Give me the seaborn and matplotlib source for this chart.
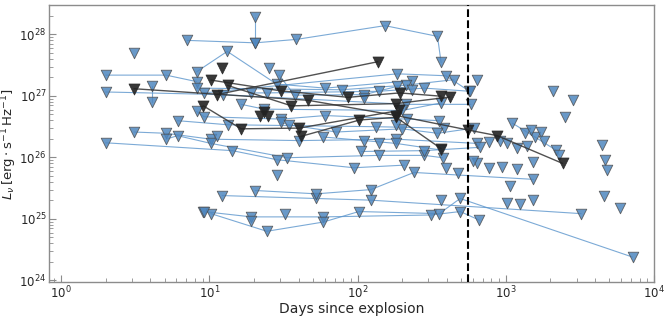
import numpy as np
import pandas as pd
import matplotlib
matplotlib.use("Agg")
import matplotlib.pyplot as plt
import seaborn as sns

#================================資料 (days since explosion, L_nu upper limits)===============================
# 每一條 track = 同一個 SN 的多次觀測
blue_days = [
    [7.1, 20.4, 38.6, 153, 346, 366],
    [20.4, 20.4],
    [2.0, 5.1, 8.2],
    [9.2, 185, 394, 563],
    [2.0, 12.3, 213, 581],
    [4.1, 4.1],
    [3.1, 5.1, 10.25, 40.4, 182, 644],
    [2.0, 14.3, 28.4, 94.4, 207],
    [8.2, 13.2, 28.4, 60.4, 232],
    [6.1, 13.3, 133, 380],
    [5.1, 6.1, 10.25, 33.6, 139, 282, 375],
    [8.2, 9.2, 30.6, 60.4, 216, 356],
    [19.2, 24.4, 139, 282, 574],
    [8.2, 78.4, 213, 447],
    [16.4, 23.4, 200, 366],
    [29.4, 37.6, 111, 185, 232],
    [30.6, 34.3, 71.8, 200, 346, 611],
    [58.7, 111, 182, 366],
    [106, 282, 670],
    [12.2, 52.7, 123, 3223],
    [20.4, 52.7, 123, 240, 1535],
    [9.1, 19.2, 58.7, 313, 492, 661],
    [10.25, 24.4, 58.7, 102, 356, 492, 7160],
    [1109, 1572, 2173, 2296],
]
blue_lum = [
    [8.0e27, 7.3e27, 8.3e27, 1.39e28, 9.3e27, 3.5e27],
    [1.95e28, 7.3e27],
    [2.18e27, 2.18e27, 1.71e27],
    [1.12e27, 2.29e27, 2.13e27, 1.21e27],
    [1.16e27, 1.05e27, 7.3e26, 7.3e26],
    [1.43e27, 8.0e26],
    [2.59e26, 2.47e26, 1.98e26, 1.88e26, 1.98e26, 1.69e26],
    [1.73e26, 1.29e26, 9.2e25, 6.8e25, 7.5e25],
    [2.47e27, 5.3e27, 1.56e27, 1.34e27, 1.77e27],
    [3.96e26, 3.4e26, 3.16e26, 3.0e26],
    [1.98e26, 2.26e26, 1.69e26, 9.9e25, 1.08e26, 1.08e26, 9.9e25],
    [5.6e26, 4.6e26, 4.2e26, 4.8e26, 4.2e26, 3.96e26],
    [1.12e27, 1.12e27, 1.19e27, 1.34e27, 1.19e27],
    [1.34e27, 1.26e27, 1.50e27, 1.84e27],
    [7.3e26, 6.1e26, 5.8e26, 7.7e26],
    [2.2e27, 1.03e27, 1.05e27, 1.43e27, 1.26e27],
    [3.7e26, 3.4e26, 2.59e26, 2.92e26, 2.47e26, 3.0e26],
    [2.15e26, 1.88e26, 1.69e26, 1.32e26],
    [1.25e26, 1.29e26, 1.46e26],
    [2.4e25, 2.15e25, 2.02e25, 1.22e25],
    [2.9e25, 2.56e25, 3.0e25, 5.7e25, 4.4e25],
    [1.32e25, 1.08e25, 1.08e25, 1.16e25, 1.32e25, 9.6e24],
    [1.22e25, 6.3e24, 8.9e24, 1.32e25, 1.22e25, 2.15e25, 2.4e24],
    [3.6e26, 2.15e26, 1.32e26, 1.09e26],
]

# 只有一次觀測的 SN
single_days = [3.1, 25.4, 28.4, 394, 473, 644, 599, 637, 111, 182, 139, 11.2, 19.2, 32.6,
               366, 9.2, 2080, 2843, 2500, 1357, 1475, 1722, 1805, 774, 914, 1019, 1198,
               1383, 4467, 4647, 4823, 774, 938, 1198, 1535, 1067, 1019, 1247, 1535,
               4592, 5876]
single_lum = [4.9e27, 2.87e27, 5.2e25, 6.8e25, 5.6e25, 8.1e25, 8.6e25, 1.84e27, 9.3e26,
              3.4e26, 1.69e26, 2.26e26, 9.1e24, 1.22e25, 2.06e25, 1.28e25, 1.19e27,
              8.7e26, 4.6e26, 2.47e26, 2.81e26, 2.59e26, 1.88e26, 1.75e26, 1.88e26,
              1.69e26, 1.41e26, 1.53e26, 1.59e26, 9.2e25, 6.15e25, 6.8e25, 7.0e25,
              6.4e25, 8.3e25, 3.4e25, 1.84e25, 1.77e25, 2.02e25, 2.4e25, 1.51e25]

black_days = [
    [3.1, 46.3, 182, 554, 875, 2415],
    [9.1, 16.4, 40.4, 190],
    [10.25, 30.2, 86.5, 192, 366],
    [11.2, 137],
    [13.3, 35.8, 182, 418],
    [41.8, 103, 182, 366],
    [12.2], [22.1], [24.9], [23.5],
]
black_lum = [
    [1.31e27, 8.5e26, 4.8e26, 2.8e26, 2.26e26, 8.0e25],
    [6.9e26, 2.92e26, 3.0e26, 5.8e26],
    [1.81e27, 1.21e27, 9.5e26, 1.12e27, 9.9e26],
    [1.05e27, 3.6e27],
    [1.48e27, 6.9e26, 7.5e26, 9.6e26],
    [2.21e26, 4.06e26, 4.5e26, 1.39e26],
    [2.85e27], [4.8e26], [4.8e26], [5.4e26],
]

t_cut = 555  # 虛線位置 (days)
#======================================================================


def to_frame(days, lum, prefix):
    rows = []
    for i, (d, l) in enumerate(zip(days, lum)):
        for dd, ll in zip(d, l):
            rows.append({"track": f"{prefix}{i}", "days": dd, "lum": ll})
    return pd.DataFrame(rows)


df_blue = to_frame(blue_days, blue_lum, "b")
df_single = pd.DataFrame({"days": single_days, "lum": single_lum})
df_black = to_frame(black_days, black_lum, "k")

sns.set_style("ticks", {"xtick.direction": "in", "ytick.direction": "in",
                        "axes.edgecolor": "0.55"})
plt.rcParams["font.family"] = ["DejaVu Sans"]

fig = plt.figure(figsize=(6.64, 3.18), dpi=100)
ax = fig.add_axes([0.074, 0.112, 0.911, 0.872])

blue_face = "#4f87bf"
blue_line = "#5b95cc"

sns.lineplot(data=df_blue, x="days", y="lum", units="track", estimator=None,
             color=blue_line, lw=0.8, alpha=0.8, ax=ax, legend=False)
sns.scatterplot(data=pd.concat([df_blue, df_single]), x="days", y="lum",
                marker="v", s=58, color=blue_face, alpha=0.85,
                edgecolor="0.3", linewidth=0.6, ax=ax, legend=False, zorder=3)
sns.lineplot(data=df_black, x="days", y="lum", units="track", estimator=None,
             color="#333333", lw=1.0, alpha=0.85, ax=ax, legend=False, zorder=4)
sns.scatterplot(data=df_black, x="days", y="lum", marker="v", s=62,
                color="#222222", alpha=0.9, edgecolor="0.15", linewidth=0.6,
                ax=ax, legend=False, zorder=5)

ax.axvline(t_cut, color="black", ls="--", lw=1.5, zorder=6)

ax.set_xscale("log")
ax.set_yscale("log")
ax.set_xlim(0.83, 1e4)
ax.set_ylim(9.3e23, 3e28)

ax.tick_params(which="both", color="0.55", labelsize=8.5, pad=2)
ax.tick_params(which="major", length=5)
ax.tick_params(which="minor", length=3)
for s in ax.spines.values():
    s.set_linewidth(1.0)

ax.set_xlabel("Days since explosion", fontsize=10, labelpad=0)
ax.set_ylabel(r"$L_\nu\,[\mathrm{erg}\cdot\mathrm{s}^{-1}\,\mathrm{Hz}^{-1}]$",
              fontsize=9.5, labelpad=0)

plt.savefig("out.png", dpi=100)
plt.close()
